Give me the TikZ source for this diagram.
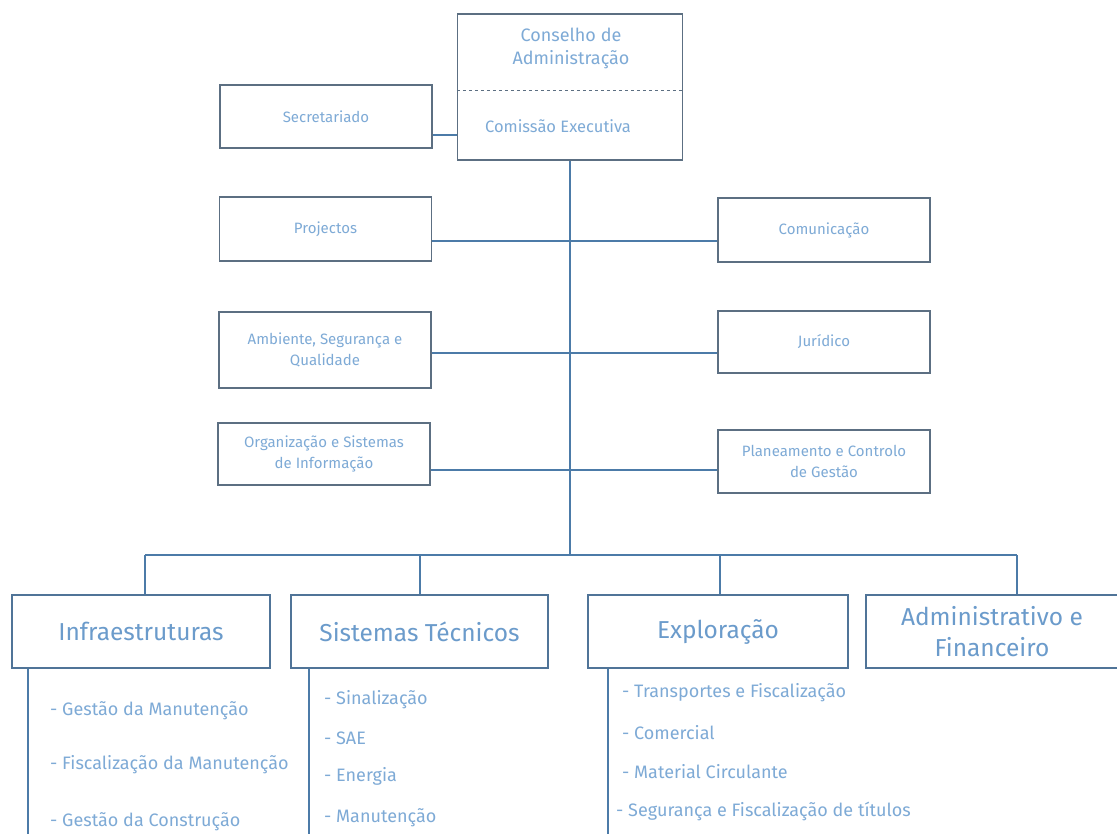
\documentclass[tikz,border=0pt]{standalone}
\usepackage{fontspec}
\setmainfont{Fira Sans}
\usetikzlibrary{calc,positioning}
\definecolor{BoxEdge}{HTML}{5C6F82}
\definecolor{LinkBlue}{HTML}{4C7BA8}
\definecolor{LabelBlue}{HTML}{7EAAD6}
\definecolor{HeadBlue}{HTML}{6B9BCB}
\tikzset{
  unitbox/.style={draw=BoxEdge, line width=1.1pt, fill=white,
    minimum width=212pt, minimum height=63pt, inner sep=4pt,
    align=center, text=LabelBlue, font=\fontsize{15}{20.5}\selectfont},
  deptbox/.style={draw=HeadBlue!75!black, line width=1.1pt, fill=white,
    minimum width=258pt, minimum height=73pt, inner sep=4pt,
    align=center, text=HeadBlue, font=\fontsize{24.5}{31}\selectfont},
  toplabel/.style={align=center, text=LabelBlue, font=\fontsize{16}{23}\selectfont},
  subitem/.style={anchor=west, inner sep=0pt, text=LabelBlue,
    font=\fontsize{18}{21}\selectfont},
  link/.style={draw=LinkBlue, line width=1.1pt}
}
\begin{document}
\begin{tikzpicture}[x=1pt,y=-1pt]
  \useasboundingbox[fill=white] (0,0) rectangle (1117,834);

  % board and executive committee
  \node[draw=BoxEdge, line width=1.1pt, minimum width=225pt, minimum height=146pt] (ca) at (570,87) {};
  \node[toplabel, font=\fontsize{18}{23}\selectfont] (cat) at (571,48) {Conselho de\\Administração};
  \node[toplabel, font=\fontsize{16.5}{23}\selectfont] (ce) at (558,126) {Comissão Executiva};
  \draw[BoxEdge, dashed, line width=0.6pt]
    ($(ca.north west)!0.52!(ca.south west)$) -- ($(ca.north east)!0.52!(ca.south east)$);

  % staff units
  \node[unitbox] (sec) at (326,116.5) {Secretariado};
  \node[unitbox, minimum height=64pt] (proj) at (325.5,229) {Projectos};
  \node[unitbox, minimum height=64pt] (com) at (824,230) {Comunicação};
  \node[unitbox, minimum height=76pt] (amb) at (325,350) {Ambiente, Segurança e\\Qualidade};
  \node[unitbox, minimum height=62pt] (jur) at (824,342) {Jurídico};
  \node[unitbox, minimum height=62pt] (org) at (324,454) {Organização e Sistemas\\de Informação};
  \node[unitbox] (plan) at (824,461.5) {Planeamento e Controlo\\de Gestão};

  % departments
  \node[deptbox] (infra) at (141,631.5) {Infraestruturas};
  \node[deptbox, minimum width=257pt] (sist) at (419.5,631.5) {Sistemas Técnicos};
  \node[deptbox, minimum width=260pt] (expl) at (718,631.5) {Exploração};
  \node[deptbox, minimum width=252pt] (adm) at (992,631.5) {Administrativo e\\Financeiro};

  % connector levels
  \coordinate (lv1) at (0,135);
  \coordinate (lv2) at (0,241);
  \coordinate (lv3) at (0,353);
  \coordinate (lv4) at (0,470);
  \coordinate (bus) at (570,555);
  \coordinate (d1) at (145,555);
  \coordinate (d2) at (420,555);
  \coordinate (d3) at (720,555);
  \coordinate (d4) at (1017,555);

  \draw[link] (sec.east |- lv1) -- (ca.west |- lv1);
  \draw[link] (ca.south) -- (bus);
  \draw[link] (proj.east |- lv2) -- (com.west |- lv2);
  \draw[link] (amb.east |- lv3) -- (jur.west |- lv3);
  \draw[link] (org.east |- lv4) -- (plan.west |- lv4);
  \draw[link] (d1) -- (d4);
  \draw[link] (d1) -- (infra.north -| d1);
  \draw[link] (d2) -- (sist.north -| d2);
  \draw[link] (d3) -- (expl.north -| d3);
  \draw[link] (d4) -- (adm.north -| d4);

  % sub-units
  \coordinate (ib) at (28,834);
  \coordinate (sb) at (309,834);
  \coordinate (eb) at (608,834);
  \draw[link] (infra.south -| ib) -- (ib);
  \draw[link] (sist.south -| sb) -- (sb);
  \draw[link] (expl.south -| eb) -- (eb);

  \node[subitem] (i1) at (50,711) {- Gestão da Manutenção};
  \node[subitem] (i2) at (50,765) {- Fiscalização da Manutenção};
  \node[subitem] (i3) at (50,822) {- Gestão da Construção};

  \node[subitem] (s1) at (324,700) {- Sinalização};
  \node[subitem] (s2) at (324,738) {- SAE};
  \node[subitem] (s3) at (324,776) {- Energia};
  \node[subitem] (s4) at (324,818) {- Manutenção};

  \node[subitem] (e1) at (622,693) {- Transportes e Fiscalização};
  \node[subitem] (e2) at (622,733) {- Comercial};
  \node[subitem] (e3) at (622,772) {- Material Circulante};
  \node[subitem] (e4) at (616,811) {- Segurança e Fiscalização de títulos};
\end{tikzpicture}
\end{document}
